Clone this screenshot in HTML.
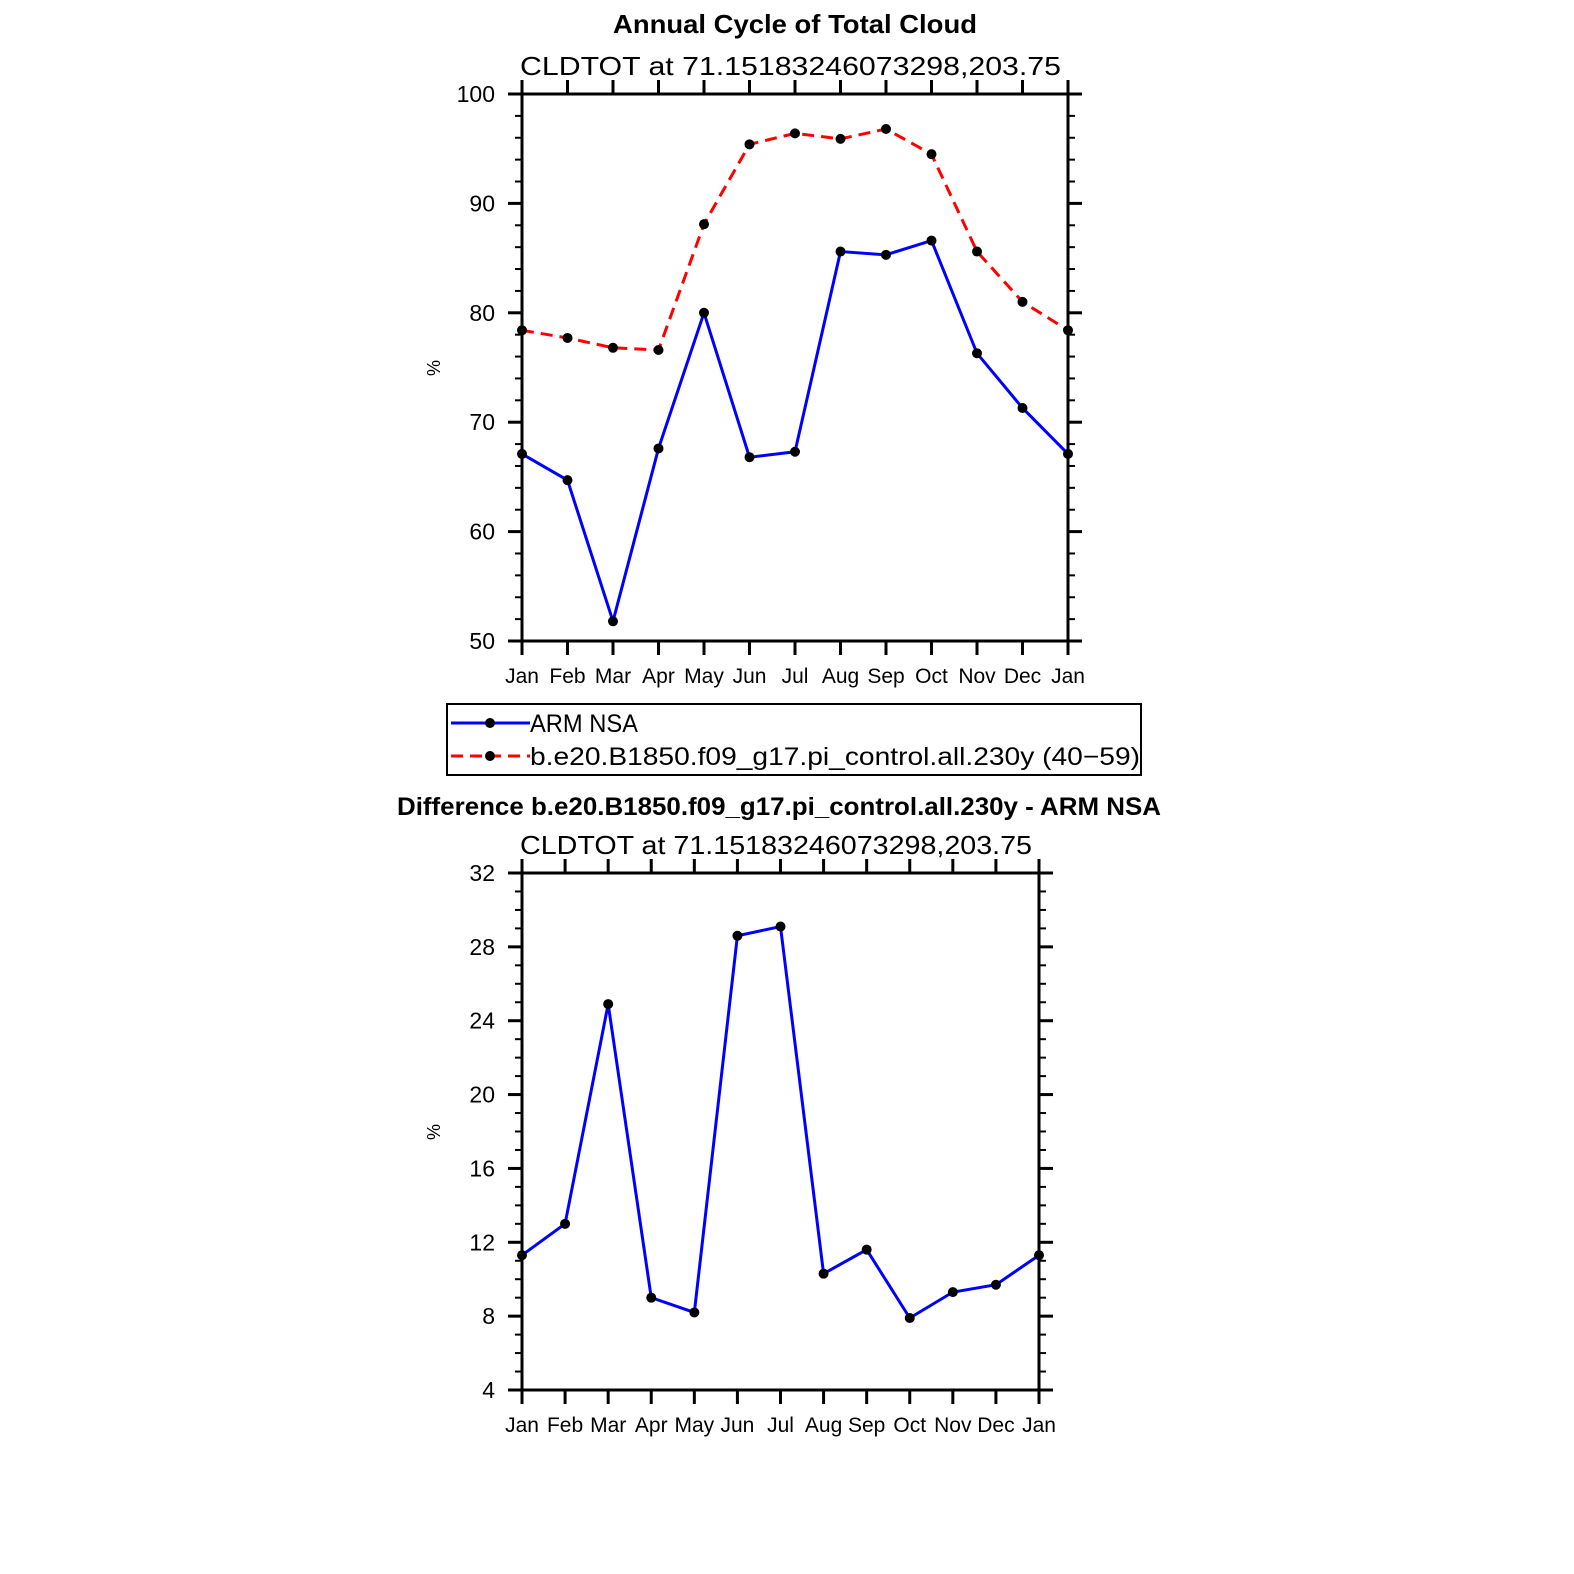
<!DOCTYPE html>
<html><head><meta charset="utf-8"><style>
html,body{margin:0;padding:0;background:#fff;}
svg{display:block;font-family:"Liberation Sans",sans-serif;}
</style></head><body>
<svg id="svg" width="1574" height="1574" viewBox="0 0 1574 1574" xmlns="http://www.w3.org/2000/svg">
<text x="613" y="33" font-size="26" font-weight="bold" textLength="364" lengthAdjust="spacingAndGlyphs">Annual Cycle of Total Cloud</text>
<text x="520" y="75" font-size="26" textLength="541" lengthAdjust="spacingAndGlyphs">CLDTOT  at  71.15183246073298,203.75</text>
<text x="397" y="815" font-size="25" font-weight="bold" textLength="764" lengthAdjust="spacingAndGlyphs">Difference b.e20.B1850.f09_g17.pi_control.all.230y - ARM NSA</text>
<text x="520" y="854" font-size="26" textLength="512" lengthAdjust="spacingAndGlyphs">CLDTOT  at  71.15183246073298,203.75</text>
<g id="top"></g>
<g id="bot"></g>
<g>
<rect x="447" y="704" width="694" height="71" fill="none" stroke="#000" stroke-width="2"/>
<line x1="451" y1="723" x2="530" y2="723" stroke="#0000ff" stroke-width="3"/>
<circle cx="490" cy="723" r="5" fill="#000"/>
<text x="530" y="732" font-size="25" textLength="108" lengthAdjust="spacingAndGlyphs">ARM NSA</text>
<line x1="451" y1="756" x2="530" y2="756" stroke="#ff0000" stroke-width="3" stroke-dasharray="12,7"/>
<circle cx="490" cy="756" r="5" fill="#000"/>
<text x="530" y="765" font-size="25" textLength="610" lengthAdjust="spacingAndGlyphs">b.e20.B1850.f09_g17.pi_control.all.230y (40−59)</text>
</g>
</svg>
<script>
const months=["Jan","Feb","Mar","Apr","May","Jun","Jul","Aug","Sep","Oct","Nov","Dec","Jan"];
const armValues=[67.1,64.7,51.8,67.6,80.0,66.8,67.3,85.6,85.3,86.6,76.3,71.3,67.1];
const modelValues=[78.4,77.7,76.8,76.6,88.1,95.4,96.4,95.9,96.8,94.5,85.6,81.0,78.4];
const diffValues=[11.3,13.0,24.9,9.0,8.2,28.6,29.1,10.3,11.6,7.9,9.3,9.7,11.3];
const topTicks=[50,60,70,80,90,100];
const botTicks=[4,8,12,16,20,24,28,32];
const NS="http://www.w3.org/2000/svg";
function mk(g,t,a){const e=document.createElementNS(NS,t);for(const k in a)e.setAttribute(k,a[k]);g.appendChild(e);return e;}
function chart(g,L,R,T,B,ymin,ymax,ticks,minorStep,series,ylab,ylabY){
  const xs=i=>L+(R-L)*i/12, ys=v=>B-(B-T)*(v-ymin)/(ymax-ymin);
  for(let v=ymin;v<=ymax+1e-9;v+=minorStep){
    const y=ys(v);
    mk(g,'line',{x1:L-7,y1:y,x2:L,y2:y,stroke:'#000','stroke-width':2});
    mk(g,'line',{x1:R,y1:y,x2:R+7,y2:y,stroke:'#000','stroke-width':2});
  }
  ticks.forEach(v=>{const y=ys(v);
    mk(g,'line',{x1:L-14,y1:y,x2:L,y2:y,stroke:'#000','stroke-width':3});
    mk(g,'line',{x1:R,y1:y,x2:R+14,y2:y,stroke:'#000','stroke-width':3});
    const t=mk(g,'text',{x:L-27,y:y+8,'text-anchor':'end','font-size':23});t.textContent=v;
    
    
  });
  months.forEach((m,i)=>{const x=xs(i);
    mk(g,'line',{x1:x,y1:T-14,x2:x,y2:T,stroke:'#000','stroke-width':3});
    mk(g,'line',{x1:x,y1:B,x2:x,y2:B+14,stroke:'#000','stroke-width':3});
    const t=mk(g,'text',{x:x,y:B+42,'text-anchor':'middle','font-size':21});t.textContent=m;
    
    
  });
  series.forEach(s=>{
    const p=mk(g,'polyline',{points:s.v.map((v,i)=>xs(i)+','+ys(v)).join(' '),fill:'none',stroke:s.c,'stroke-width':3});
    if(s.d)p.setAttribute('stroke-dasharray',s.d);
    
    
    s.v.forEach((v,i)=>{const c=mk(g,'circle',{cx:xs(i),cy:ys(v),r:5,fill:'#000'});
      
      });
  });
  mk(g,'rect',{x:L,y:T,width:R-L,height:B-T,fill:'none',stroke:'#000','stroke-width':3});
  const yl=mk(g,'text',{x:0,y:0,'font-size':18,transform:`translate(${L-82},${ylabY}) rotate(-90)`,'text-anchor':'middle'});yl.textContent=ylab;
  
  
}
chart(document.getElementById('top'),522,1068,94,641,50,100,topTicks,2,
 [{v:armValues,c:'#0000ff',n:'arm-nsa-line'},{v:modelValues,c:'#ff0000',d:'12,7',n:'model-line'}],'%',368);
chart(document.getElementById('bot'),522,1039,873,1390,4,32,botTicks,1,
 [{v:diffValues,c:'#0000ff',n:'difference-line'}],'%',1132);
</script>
</body></html>
